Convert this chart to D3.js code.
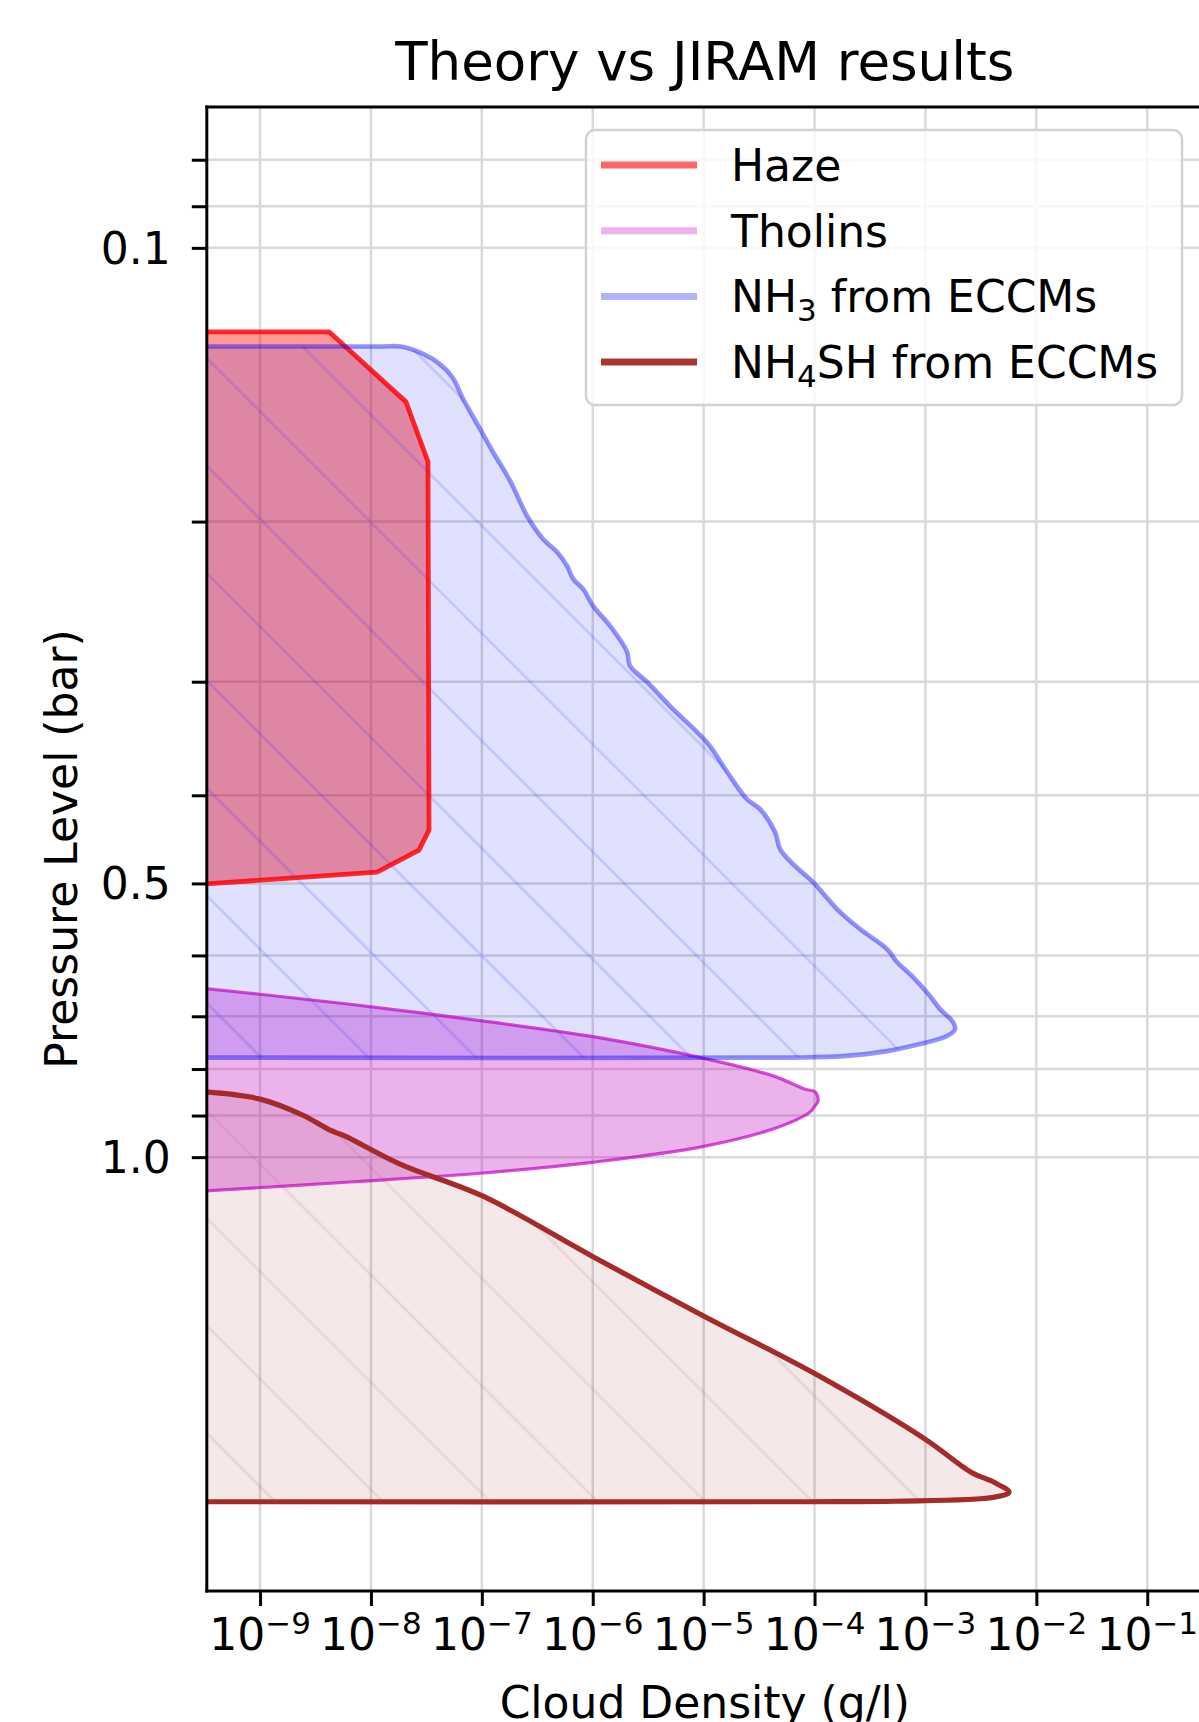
<!DOCTYPE html>
<html>
<head>
<meta charset="utf-8">
<script src="https://cdn.jsdelivr.net/npm/d3@7"></script>
<style>
  body { margin: 0; background: #fff; }
  svg { display: block; }
  text { font-family: "DejaVu Sans", sans-serif; fill: #000; }
</style>
</head>
<body>
<svg id="chart" width="1199" height="1722"></svg>
<script>
// ---- Cloud profiles: outline vertices (density in g/l, pressure in bar) ----
const hazeDensity   = [3e-10, 4.19e-9, 2.07e-8, 3.27e-8, 3.34e-8, 2.71e-8, 1.135e-8, 3e-10];
const hazePressure  = [0.1237, 0.1237, 0.1477, 0.1719, 0.4368, 0.4595, 0.4859, 0.501];

const tholinsDensity  = [3e-10, 1e-9, 6.48e-9, 1.047e-7, 1.071e-6, 1.073e-5, 4.31e-5, 8.21e-5, 1.02e-4,
                         1.075e-4, 9.9e-5, 9.11e-5, 4.69e-5, 1.03e-5, 1.027e-6, 1.025e-7, 6.48e-9, 3e-10];
const tholinsPressure = [0.652, 0.662, 0.679, 0.7086, 0.738, 0.780, 0.8145, 0.8419, 0.848,
                         0.868, 0.881, 0.892, 0.927, 0.9725, 1.0127, 1.041, 1.065, 1.090];

const nh3Density  = [3e-10, 1e-9, 1.2e-8, 1.87e-8, 2.95e-8, 3.94e-8, 5.39e-8, 6.77e-8, 9.63e-8, 1.26e-7, 1.80e-7,
                     2.56e-7, 3.56e-7, 4.77e-7, 5.87e-7, 6.65e-7, 8.18e-7, 1.006e-6, 1.43e-6, 2.04e-6,
                     2.17e-6, 3.09e-6, 5.30e-6, 8.72e-6, 1.14e-5, 1.63e-5, 2.46e-5, 3.23e-5, 4.40e-5,
                     4.89e-5, 6.40e-5, 9.69e-5, 1.595e-4, 2.57e-4, 4.51e-4, 5.54e-4, 7.73e-4, 1.10e-3,
                     1.354e-3, 1.774e-3, 1.849e-3, 1.566e-3, 8.94e-4, 4.51e-4, 1.81e-4, 6.4e-5, 1e-9, 3e-10];
const nh3Pressure = [0.1284, 0.1284, 0.1284, 0.1284, 0.1308, 0.1335, 0.1386, 0.1466, 0.1582, 0.1677, 0.1804,
                     0.1972, 0.2090, 0.2160, 0.2238, 0.2312, 0.2372, 0.2476, 0.2604, 0.2782,
                     0.2883, 0.3002, 0.3216, 0.3408, 0.3531, 0.3771, 0.4040, 0.4143, 0.4390,
                     0.4583, 0.4762, 0.4983, 0.5335, 0.5612, 0.5904, 0.6102, 0.6339, 0.6651,
                     0.6874, 0.7103, 0.7231, 0.7360, 0.7510, 0.7645, 0.7743, 0.7772, 0.7772, 0.7772];

const nh4shDensity  = [3e-10, 1e-9, 2.44e-9, 4.28e-9, 5.84e-9, 1.83e-8, 1.025e-7, 9.86e-7, 1.008e-5,
                       1.031e-4, 9.92e-4, 2.58e-3, 4.155e-3, 5.67e-3, 4.155e-3, 5.43e-4, 9.11e-5, 1e-9, 3e-10];
const nh4shPressure = [0.8472, 0.8633, 0.8993, 0.934, 0.9482, 1.018, 1.104, 1.285, 1.496,
                       1.733, 2.042, 2.221, 2.278, 2.336, 2.366, 2.39, 2.393, 2.393, 2.393];

// ---- Axis ticks ----
const xTickExponents = [-9, -8, -7, -6, -5, -4, -3, -2, -1];
const yTickValues    = [0.08, 0.09, 0.1, 0.2, 0.3, 0.4, 0.5, 0.6, 0.7, 0.8, 0.9, 1.0];
const yTickLabelled  = [0.1, 0.5, 1.0];
const legendLabels   = ["Haze", "Tholins", "NH3 from ECCMs", "NH4SH from ECCMs"];

// ---- Layout ----
const plot = { left: 206.8, right: 1202.7, top: 107, bottom: 1591 };
const svg = d3.select("#chart");

const x = d3.scaleLog().domain([10 ** -9.48, 10 ** -0.5]).range([plot.left, plot.right]);
const y = d3.scaleLog().domain([0.07, 3]).range([plot.top, plot.bottom]);

const defs = svg.append("defs");
defs.append("clipPath").attr("id", "plot-clip")
  .append("rect")
  .attr("x", plot.left).attr("y", plot.top)
  .attr("width", plot.right - plot.left).attr("height", plot.bottom - plot.top);

// diagonal "\\" hatch, anchored to page coordinates
function hatch(id, color) {
  const p = defs.append("pattern").attr("id", id)
    .attr("patternUnits", "userSpaceOnUse")
    .attr("width", 107.5).attr("height", 107.5);
  p.append("path")
    .attr("d", "M-10,34L73.5,117.5M53.5,-10L117.5,54")
    .attr("stroke", color).attr("stroke-width", 2.6).attr("fill", "none");
}
hatch("hatch-nh3", "rgba(0,0,255,0.13)");
hatch("hatch-nh4sh", "rgba(165,42,42,0.11)");

// ---- Grid ----
const xTicks = xTickExponents.map(e => 10 ** e);
const grid = svg.append("g").attr("stroke", "#d9d9d9").attr("stroke-width", 2.5);
grid.selectAll(".gx").data(xTicks).join("line").attr("class", "gx")
  .attr("x1", d => x(d)).attr("x2", d => x(d))
  .attr("y1", plot.top).attr("y2", plot.bottom);
grid.selectAll(".gy").data(yTickValues).join("line").attr("class", "gy")
  .attr("x1", plot.left).attr("x2", plot.right)
  .attr("y1", d => y(d)).attr("y2", d => y(d));

// ---- Cloud regions ----
const smooth = d3.curveCatmullRom.alpha(0.5);
const series = [
  { density: hazeDensity, pressure: hazePressure, curve: d3.curveLinear,
    fill: "rgba(255,0,0,0.40)", stroke: "rgba(255,0,0,0.82)", width: 4.8, hatch: null },
  { density: tholinsDensity, pressure: tholinsPressure, curve: smooth,
    fill: "rgba(191,0,191,0.30)", stroke: "rgba(191,0,191,0.68)", width: 3.2, hatch: null },
  { density: nh3Density, pressure: nh3Pressure, curve: smooth,
    fill: "rgba(0,0,255,0.12)", stroke: "rgba(0,0,255,0.42)", width: 4.6, hatch: "hatch-nh3" },
  { density: nh4shDensity, pressure: nh4shPressure, curve: smooth,
    fill: "rgba(165,42,42,0.11)", stroke: "#a52a2a", width: 5.2, hatch: "hatch-nh4sh" }
];

const regions = svg.append("g").attr("clip-path", "url(#plot-clip)");
const fillLayer = regions.append("g");
const edgeLayer = regions.append("g");

series.forEach(s => {
  const pts = s.density.map((d, i) => [d, s.pressure[i]]);
  const outline = d3.line().x(d => x(d[0])).y(d => y(d[1])).curve(s.curve);
  const d = outline(pts) + "Z";
  fillLayer.append("path").attr("d", d).attr("fill", s.fill).attr("stroke", "none");
  if (s.hatch) fillLayer.append("path").attr("d", d).attr("fill", `url(#${s.hatch})`).attr("stroke", "none");
  edgeLayer.append("path").attr("d", d).attr("fill", "none")
    .attr("stroke", s.stroke).attr("stroke-width", s.width).attr("stroke-linejoin", "round");
});

// ---- Axes ----
const yAxis = d3.axisLeft(y).tickValues(yTickValues).tickSize(15).tickPadding(21)
  .tickFormat(d => yTickLabelled.includes(d) ? d.toFixed(1) : "");
const gy = svg.append("g").attr("transform", `translate(${plot.left},0)`).call(yAxis);
gy.select(".domain").remove();
gy.selectAll(".tick line").attr("stroke", "#000").attr("stroke-width", 3);
gy.selectAll(".tick text").attr("font-size", 44).attr("dy", "0.35em")
  .style("font-family", "'DejaVu Sans', sans-serif").attr("fill", "#000");

const xAxis = d3.axisBottom(x).tickValues(xTicks).tickSize(15).tickFormat("");
const gx = svg.append("g").attr("transform", `translate(0,${plot.bottom})`).call(xAxis);
gx.select(".domain").remove();
gx.selectAll(".tick line").attr("stroke", "#000").attr("stroke-width", 3);

// power-of-ten labels with superscript exponents
const xLabels = svg.append("g");
xTickExponents.forEach(e => {
  const t = xLabels.append("text")
    .attr("x", x(10 ** e)).attr("y", 1650)
    .attr("text-anchor", "middle").attr("font-size", 44);
  t.append("tspan").text("10");
  t.append("tspan").attr("dy", -16).attr("font-size", 31).text("\u2212" + Math.abs(e));
});

// spines
const spines = svg.append("g").attr("stroke", "#000").attr("stroke-width", 3).attr("stroke-linecap", "square");
spines.append("line").attr("x1", plot.left).attr("x2", plot.right).attr("y1", plot.top).attr("y2", plot.top);
spines.append("line").attr("x1", plot.left).attr("x2", plot.right).attr("y1", plot.bottom).attr("y2", plot.bottom);
spines.append("line").attr("x1", plot.left).attr("x2", plot.left).attr("y1", plot.top).attr("y2", plot.bottom);
spines.append("line").attr("x1", plot.right).attr("x2", plot.right).attr("y1", plot.top).attr("y2", plot.bottom);

// ---- Titles ----
const cx = (plot.left + plot.right) / 2;
svg.append("text").attr("x", cx).attr("y", 80).attr("text-anchor", "middle")
  .attr("font-size", 53).text("Theory vs JIRAM results");
svg.append("text").attr("x", cx).attr("y", 1718).attr("text-anchor", "middle")
  .attr("font-size", 44).text("Cloud Density (g/l)");
svg.append("text").attr("transform", `translate(77,${(plot.top + plot.bottom) / 2}) rotate(-90)`)
  .attr("text-anchor", "middle").attr("font-size", 44).text("Pressure Level (bar)");

// ---- Legend ----
const legendLine = ["rgba(255,0,0,0.6)", "rgba(191,0,191,0.3)", "rgba(0,0,255,0.3)", "rgba(165,42,42,0.95)"];
const legend = svg.append("g");
legend.append("rect").attr("x", 586).attr("y", 130).attr("width", 596).attr("height", 275)
  .attr("rx", 9).attr("fill", "rgba(255,255,255,0.8)")
  .attr("stroke", "#d2d2d2").attr("stroke-width", 2.5);

legendLabels.forEach((label, i) => {
  const cy = 165 + i * 65.7;
  legend.append("line").attr("x1", 601).attr("x2", 697).attr("y1", cy).attr("y2", cy)
    .attr("stroke", legendLine[i]).attr("stroke-width", 7);
  const t = legend.append("text").attr("x", 731).attr("y", cy + 16).attr("font-size", 44);
  // chemical formulas: digits are subscripts
  label.split(/(\d)/).filter(s => s.length).forEach(part => {
    if (/^\d$/.test(part)) {
      t.append("tspan").attr("dy", 9).attr("font-size", 31).text(part);
    } else {
      const sp = t.append("tspan").text(part);
      if (t.selectAll("tspan").size() > 1) sp.attr("dy", -9);
    }
  });
});
</script>
</body>
</html>
